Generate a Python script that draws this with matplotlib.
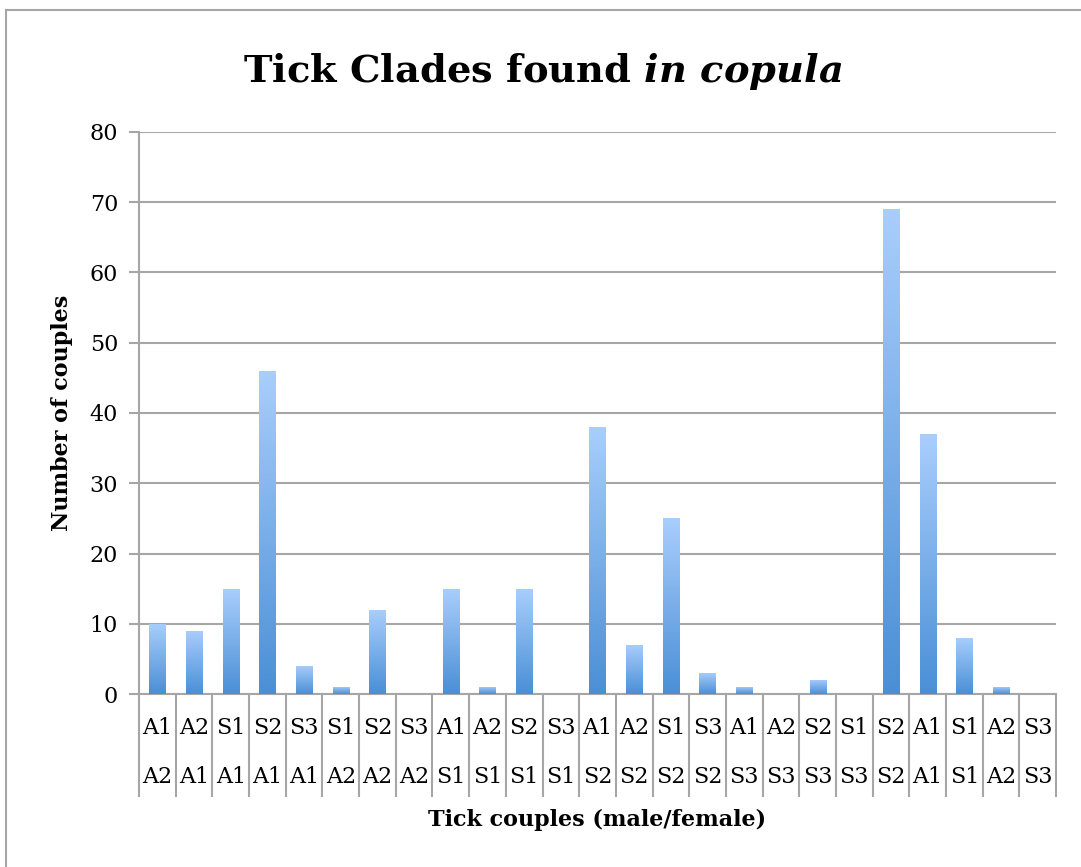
import numpy as np
import matplotlib
matplotlib.use('Agg')
import matplotlib.pyplot as plt
from matplotlib.patches import Rectangle
from matplotlib.colors import LinearSegmentedColormap

plt.rcParams['font.family'] = ['DejaVu Serif']
plt.rcParams['mathtext.fontset'] = 'custom'
plt.rcParams['mathtext.it'] = 'DejaVu Serif:bold:italic'
plt.rcParams['mathtext.rm'] = 'DejaVu Serif:bold'

male = ['A1', 'A2', 'S1', 'S2', 'S3', 'S1', 'S2', 'S3', 'A1', 'A2', 'S2', 'S3', 'A1',
        'A2', 'S1', 'S3', 'A1', 'A2', 'S2', 'S1', 'S2', 'A1', 'S1', 'A2', 'S3']
female = ['A2', 'A1', 'A1', 'A1', 'A1', 'A2', 'A2', 'A2', 'S1', 'S1', 'S1', 'S1', 'S2',
          'S2', 'S2', 'S2', 'S3', 'S3', 'S3', 'S3', 'S2', 'A1', 'S1', 'A2', 'S3']
couples = [10, 9, 15, 46, 4, 1, 12, 0, 15, 1, 15, 0, 38, 7, 25, 3, 1, 0, 2, 0, 69, 37, 8, 1, 0]

grid_col = '#a6a6a6'
fig = plt.figure(figsize=(10.81, 8.67), dpi=100)
ax = fig.add_axes([0.1286, 0.1995, 0.8483, 0.6483])

x = np.arange(len(couples))

# bars with a vertical gradient (dark at the base, light at the top)
cmap = LinearSegmentedColormap.from_list('bar', ['#4a8fd6', '#a9cefc'])
grad = np.linspace(0, 1, 256).reshape(-1, 1)
bars = ax.bar(x, couples, width=0.44, facecolor='none', edgecolor='none', zorder=3)
for b in bars:
    h = b.get_height()
    if h <= 0:
        continue
    im = ax.imshow(grad, cmap=cmap, origin='lower', aspect='auto', zorder=3,
                   extent=(b.get_x(), b.get_x() + b.get_width(), 0, h))
    im.set_clip_path(b)
ax.set_xlim(-0.5, len(couples) - 0.5)
ax.set_ylim(0, 80)

ax.set_yticks(np.arange(0, 81, 10))
ax.yaxis.grid(True, color=grid_col, linewidth=1.5)
ax.set_axisbelow(True)
ax.tick_params(axis='y', length=7, width=1.5, color=grid_col, labelsize=16, pad=8)
ax.tick_params(axis='x', length=0, labelbottom=False)
for s in ['top', 'right']:
    ax.spines[s].set_visible(False)
for s in ['left', 'bottom']:
    ax.spines[s].set_color(grid_col)
    ax.spines[s].set_linewidth(1.5)

# two-level category labels with dividers
tr = ax.get_xaxis_transform()
ax.vlines(np.arange(len(couples) + 1) - 0.5, -0.183, 0, transform=tr,
          color=grid_col, linewidth=1.5, clip_on=False)
for i in x:
    ax.text(i, -0.0605, male[i], transform=tr, ha='center', va='center', fontsize=16)
    ax.text(i, -0.1477, female[i], transform=tr, ha='center', va='center', fontsize=16)

ax.text(0.5, -0.224, 'Tick couples (male/female)', transform=ax.transAxes,
        ha='center', va='center', fontsize=16, fontweight='bold')
ax.set_ylabel('Number of couples', fontsize=16, fontweight='bold', labelpad=12)

fig.text(0.502, 0.918, r'Tick Clades found $\it{in\ copula}$', ha='center', va='center',
         fontsize=27.6, fontweight='bold')

fig.patches.append(Rectangle((0.0056, -0.1), 1.2, 1.0885, transform=fig.transFigure,
                             fill=False, edgecolor=grid_col, linewidth=1.5))

fig.savefig('out.png', dpi=100)
